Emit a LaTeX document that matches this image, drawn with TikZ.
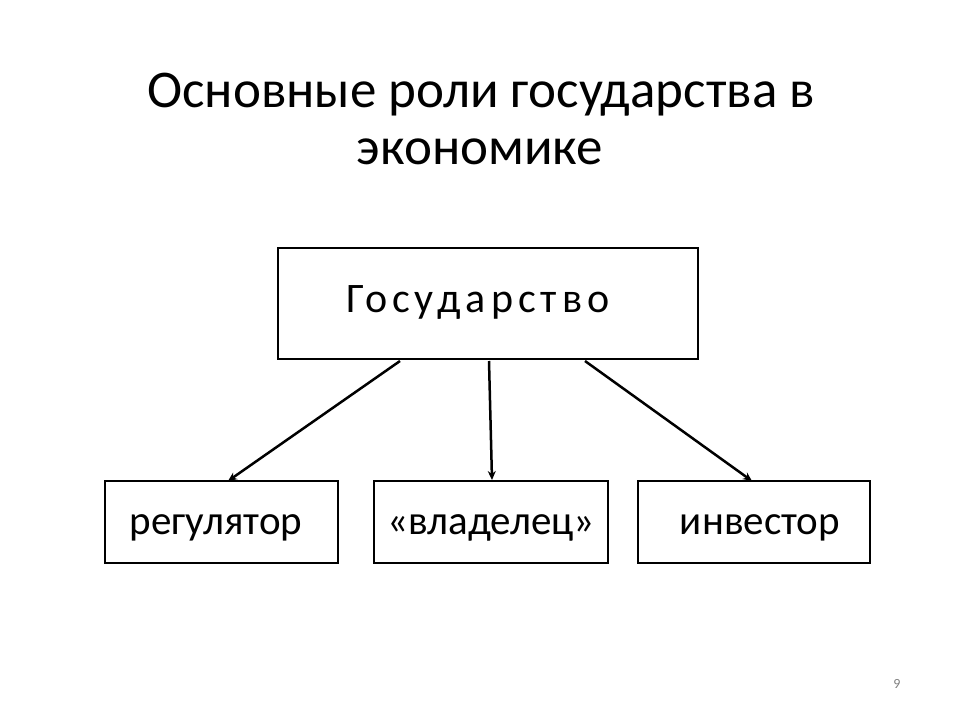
\documentclass[tikz,border=0pt]{standalone}
\usepackage{fontspec}
\setmainfont{Carlito}
\usetikzlibrary{arrows.meta}
\begin{document}
\begin{tikzpicture}[x=1pt,y=-1pt,
  box/.style={draw,line width=2.5pt,inner sep=0pt},
  arr/.style={line width=2.5pt,-{Stealth[length=9pt,width=8pt]}}]
\useasboundingbox (0,0) rectangle (960,720);
\node (t1) at (481,95) {\fontsize{53}{64}\selectfont Основные роли государства в};
\node (t2) at (480,152) {\fontsize{53}{64}\selectfont экономике};
\node[box,minimum width=420pt,minimum height=111pt] (g) at (488,303.5) {};
\node (gt) at (478,302) {\fontsize{42}{50}\selectfont\addfontfeature{LetterSpace=12}Государство};
\node[box,minimum width=233pt,minimum height=82pt] (r) at (221.5,522) {};
\node[box,minimum width=234pt,minimum height=82pt] (v) at (491,522) {};
\node[box,minimum width=232pt,minimum height=82pt] (i) at (754,522) {};
\node at (216,528) {\fontsize{41}{48}\selectfont регулятор};
\node at (491,528) {\fontsize{41}{48}\selectfont «владелец»};
\node at (760,528) {\fontsize{41}{48}\selectfont инвестор};
\coordinate (a1) at (400,361);
\coordinate (a2) at (489,361);
\coordinate (a3) at (585,361);
\coordinate (b1) at (228,481);
\coordinate (b2) at (492,480);
\coordinate (b3) at (752,481);
\draw[arr] (a1) -- (b1);
\draw[arr] (a2) -- (b2);
\draw[arr] (a3) -- (b3);
\node[text=gray] (pn) at (897,684) {\fontsize{14}{16}\selectfont 9};
\end{tikzpicture}
\end{document}
